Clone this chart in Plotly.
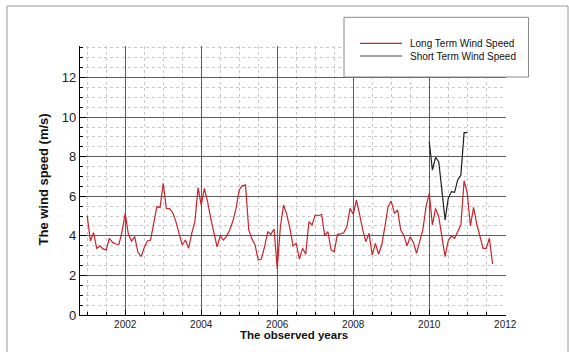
import plotly.graph_objects as go

# ---- data (monthly values) ----
start_year = 2001
long_term = [
    5.02, 3.74, 4.16, 3.37, 3.49, 3.34, 3.29, 3.88, 3.67, 3.59, 3.57, 4.21,   # 2001
    5.14, 4.08, 3.74, 3.96, 3.17, 2.95, 3.40, 3.74, 3.79, 4.55, 5.48, 5.43,   # 2002
    6.66, 5.38, 5.38, 5.17, 4.72, 4.13, 3.54, 3.79, 3.37, 4.13, 4.72, 6.44,   # 2003
    5.56, 6.40, 5.73, 4.89, 4.13, 3.45, 4.01, 3.79, 3.99, 4.30, 4.75, 5.39,   # 2004
    6.32, 6.54, 6.57, 4.30, 3.85, 3.54, 2.78, 2.83, 3.45, 4.21, 4.08, 4.35,   # 2005
    2.33, 4.47, 5.56, 5.09, 4.38, 3.49, 3.62, 2.83, 3.37, 3.07, 4.72, 4.55,   # 2006
    5.06, 5.02, 5.09, 4.01, 4.21, 3.29, 3.20, 4.08, 4.10, 4.16, 4.47, 5.39,   # 2007
    5.09, 5.81, 5.09, 4.30, 3.71, 4.13, 3.03, 3.62, 3.07, 3.54, 4.47, 5.48,   # 2008
    5.76, 5.14, 5.31, 4.30, 4.01, 3.50, 3.96, 3.67, 3.12, 3.75, 4.33, 5.48,   # 2009
    6.15, 4.55, 5.39, 4.97, 4.04, 2.95, 3.76, 3.99, 3.88, 4.21, 4.55, 6.79,   # 2010
    6.18, 4.50, 5.44, 4.60, 4.04, 3.37, 3.37, 3.88, 2.58,                     # 2011
]
short_start_year = 2010
short_term = [8.76, 7.33, 7.97, 7.75, 6.30, 4.80, 5.90, 6.24, 6.20, 6.83, 7.08, 9.22, 9.22]

series_names = ["Long Term Wind Speed", "Short Term Wind Speed"]
x_tick_vals = [2002, 2004, 2006, 2008, 2010, 2012]
y_tick_vals = [0, 2, 4, 6, 8, 10, 12]

x_long = [start_year + i / 12 for i in range(len(long_term))]
x_short = [short_start_year + i / 12 for i in range(len(short_term))]

RED = "#c8232b"
BLACK = "#1e1e1e"
FONT = "Liberation Sans, Arial, sans-serif"

W, H = 569, 352
L, R, T, B = 80, 63, 46, 37
PW, PH = W - L - R, H - T - B


def px(x):
    return (x - L) / PW


def py(y):
    return (H - B - y) / PH


fig = go.Figure()
fig.add_trace(go.Scatter(x=x_long, y=long_term, mode="lines", name=series_names[0],
                         line=dict(color=RED, width=1.2), showlegend=False))
fig.add_trace(go.Scatter(x=x_short, y=short_term, mode="lines", name=series_names[1],
                         line=dict(color=BLACK, width=1.2), showlegend=False))

grid_major = "#5c5c5c"
grid_minor = "#c8c8c8"

fig.update_xaxes(
    range=[2000.81, 2012.02], tickvals=x_tick_vals, ticktext=[str(v) for v in x_tick_vals],
    showgrid=True, gridcolor=grid_major, gridwidth=1,
    showline=True, linecolor="black", linewidth=1.2,
    ticks="inside", ticklen=5, tickcolor="black",
    tickfont=dict(family=FONT, size=10, color="#222"),
    minor=dict(tick0=2000, dtick=0.5, showgrid=True, gridcolor=grid_minor, griddash="dot",
               gridwidth=1, ticks="inside", ticklen=3, tickcolor="black"),
    zeroline=False, fixedrange=True,
)
fig.update_yaxes(
    range=[0, 13.6], tickvals=y_tick_vals, ticktext=[str(v) for v in y_tick_vals],
    showgrid=True, gridcolor=grid_major, gridwidth=1,
    showline=True, linecolor="black", linewidth=1.2,
    ticks="inside", ticklen=6, tickcolor="black",
    tickfont=dict(family=FONT, size=13, color="#222"),
    minor=dict(tick0=0, dtick=0.5, showgrid=True, gridcolor=grid_minor, griddash="dot",
               gridwidth=1, ticks="inside", ticklen=3, tickcolor="black"),
    zeroline=False, fixedrange=True,
)

shapes = [
    # outer frame
    dict(type="rect", xref="paper", yref="paper", x0=px(7), x1=px(568), y0=py(6), y1=py(400),
         line=dict(color="#9a9a9a", width=1), fillcolor="rgba(0,0,0,0)", layer="below"),
    # legend box
    dict(type="rect", xref="paper", yref="paper", x0=px(344), x1=px(528.5), y0=py(77), y1=py(17.3),
         line=dict(color="#8a8a8a", width=1), fillcolor="white", layer="above"),
    dict(type="line", xref="paper", yref="paper", x0=px(360), x1=px(402), y0=py(43.3), y1=py(43.3),
         line=dict(color=RED, width=1.2), layer="above"),
    dict(type="line", xref="paper", yref="paper", x0=px(360), x1=px(402), y0=py(56), y1=py(56),
         line=dict(color="#444", width=1.2), layer="above"),
]

annotations = [
    dict(text=series_names[0], xref="paper", yref="paper", x=px(408), y=py(43.3),
         xanchor="left", yanchor="middle", showarrow=False,
         font=dict(family=FONT, size=10, color="#111")),
    dict(text=series_names[1], xref="paper", yref="paper", x=px(408), y=py(56),
         xanchor="left", yanchor="middle", showarrow=False,
         font=dict(family=FONT, size=10, color="#111")),
    dict(text="<b>The observed years</b>", xref="paper", yref="paper", x=px(294), y=py(334.5),
         xanchor="center", yanchor="middle", showarrow=False,
         font=dict(family=FONT, size=11.5, color="#111")),
    dict(text="<b>The wind speed (m/s)</b>", xref="paper", yref="paper", x=px(43), y=py(179.5),
         xanchor="center", yanchor="middle", showarrow=False, textangle=-90,
         font=dict(family=FONT, size=13, color="#111")),
]

fig.update_layout(
    width=W, height=H,
    margin=dict(l=L, r=R, t=T, b=B, autoexpand=False),
    paper_bgcolor="white", plot_bgcolor="white",
    showlegend=False,
    shapes=shapes, annotations=annotations,
)

fig.write_html(
    "out.html",
    config={"displayModeBar": False},
    post_script="document.body.style.margin='0';document.body.style.overflow='hidden';",
)
